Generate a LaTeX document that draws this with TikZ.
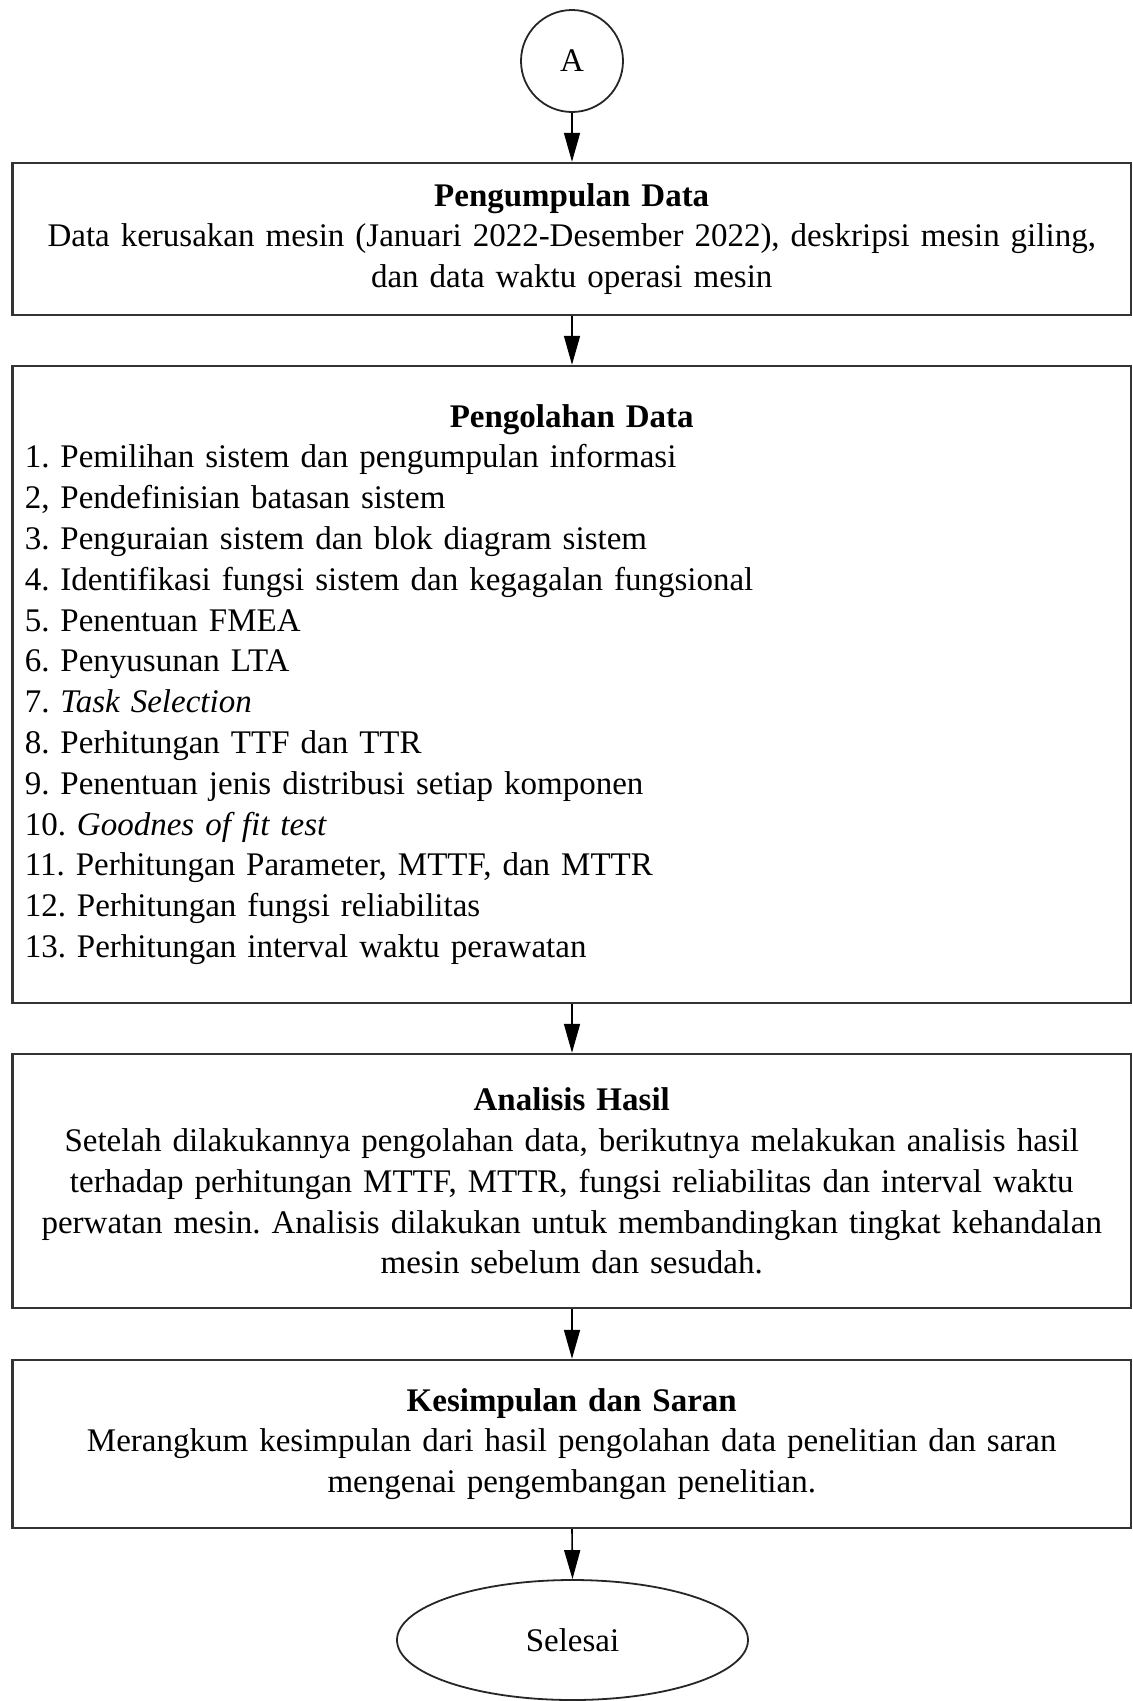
\documentclass[tikz,border=0pt]{standalone}
\usepackage{fontspec}
\setmainfont{Liberation Serif}
\usetikzlibrary{arrows.meta,shapes.geometric}

\tikzset{
  txt/.style={font=\fontsize{33}{40.8}\selectfont\frenchspacing},
  stagebox/.style={draw=black!80, line width=2.4pt, rectangle, inner sep=0pt,
    minimum width=1118.5pt, txt},
  flow/.style={draw=black, line width=1.6pt,
    -{Triangle[length=29pt,width=16pt]}},
  terminal/.style={draw=black!85, line width=1.8pt, inner sep=0pt, txt}
}

\begin{document}
\begin{tikzpicture}[x=1pt,y=-1pt]
\useasboundingbox (0,0) rectangle (1133,1701);

% connector A at the top
\node[terminal, circle, minimum size=102pt] (conA) at (572,61) {A};

% data collection
\node[stagebox, minimum height=152pt, text width=1110pt, align=center] (kumpul) at (571.75,239)
  {\textbf{Pengumpulan Data}\\
   Data kerusakan mesin (Januari 2022-Desember 2022), deskripsi mesin giling,\\
   dan data waktu operasi mesin};

% data processing steps
\node[stagebox, minimum height=637pt, text width=1094pt, align=left] (olah) at (571.75,684.5)
  {\makebox[\linewidth][c]{\textbf{Pengolahan Data}}\\
   1. Pemilihan sistem dan pengumpulan informasi\\
   2, Pendefinisian batasan sistem\\
   3. Penguraian sistem dan blok diagram sistem\\
   4. Identifikasi fungsi sistem dan kegagalan fungsional\\
   5. Penentuan FMEA\\
   6. Penyusunan LTA\\
   7. \textit{Task Selection}\\
   8. Perhitungan TTF dan TTR\\
   9. Penentuan jenis distribusi setiap komponen\\
   10. \textit{Goodnes of fit test}\\
   11. Perhitungan Parameter, MTTF, dan MTTR\\
   12. Perhitungan fungsi reliabilitas\\
   13. Perhitungan interval waktu perawatan};

% analysis of results
\node[stagebox, minimum height=254pt, text width=1110pt, align=center] (analisis) at (571.75,1181)
  {\textbf{Analisis Hasil}\\
   Setelah dilakukannya pengolahan data, berikutnya melakukan analisis hasil\\
   terhadap perhitungan MTTF, MTTR, fungsi reliabilitas dan interval waktu\\
   perwatan mesin. Analisis dilakukan untuk membandingkan tingkat kehandalan\\
   mesin sebelum dan sesudah.};

% conclusion
\node[stagebox, minimum height=168pt, text width=1110pt, align=center] (simpul) at (571.75,1444)
  {\textbf{Kesimpulan dan Saran}\\
   Merangkum kesimpulan dari hasil pengolahan data penelitian dan saran\\
   mengenai pengembangan penelitian.};

% end terminal
\node[terminal, ellipse, minimum width=351pt, minimum height=120pt] (selesai) at (572.5,1640) {Selesai};

% connectors
\draw[flow] (conA.south) -- (conA.south |- kumpul.north);
\draw[flow] (conA.south |- kumpul.south) -- (conA.south |- olah.north);
\draw[flow] (conA.south |- olah.south) -- (conA.south |- analisis.north);
\draw[flow] (conA.south |- analisis.south) -- (conA.south |- simpul.north);
\draw[flow] (conA.south |- simpul.south) -- (selesai.north);
\end{tikzpicture}
\end{document}
